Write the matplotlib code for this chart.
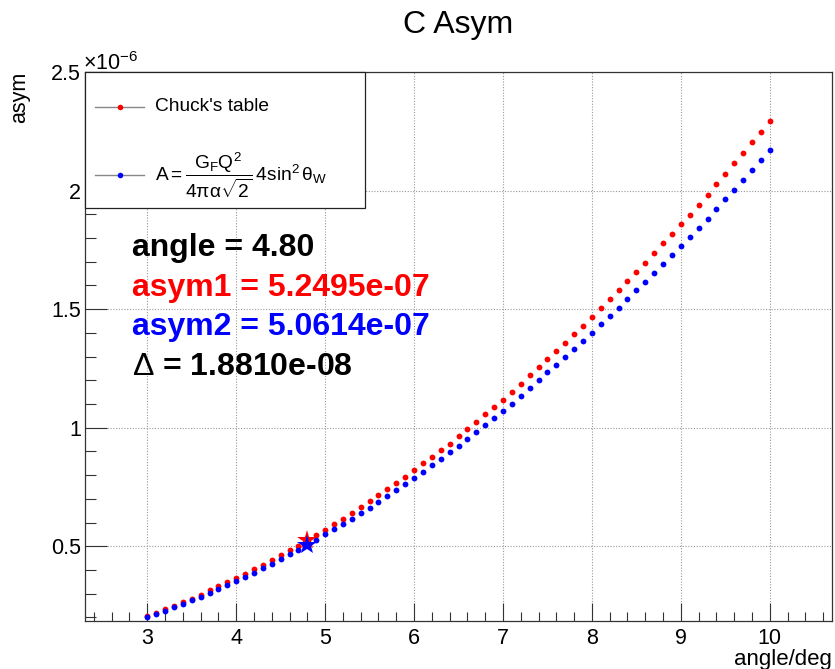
import numpy as np
import matplotlib
matplotlib.use('Agg')
import matplotlib.pyplot as plt
from matplotlib.ticker import MultipleLocator, FuncFormatter
from matplotlib.patches import Rectangle

plt.rcParams['font.family'] = ['Liberation Sans', 'DejaVu Sans']
plt.rcParams['mathtext.fontset'] = 'custom'
plt.rcParams['mathtext.rm'] = 'Liberation Sans'
plt.rcParams['mathtext.it'] = 'Liberation Sans'
plt.rcParams['mathtext.bf'] = 'Liberation Sans:bold'

# scattering angle (deg)
angle = np.round(np.arange(30, 101) / 10.0, 1)

# asymmetry in units of 1e-6
asym_table = [
    0.2065, 0.2204, 0.2360, 0.2500, 0.2642, 0.2794, 0.2963, 0.3148, 0.3316, 0.3498,
    0.3654, 0.3847, 0.4033, 0.4227, 0.4425, 0.4623, 0.4834, 0.5027, 0.5250, 0.5478,
    0.5702, 0.5942, 0.6165, 0.6418, 0.6665, 0.6911, 0.7151, 0.7417, 0.7670, 0.7935,
    0.8205, 0.8500, 0.8765, 0.9060, 0.9326, 0.9638, 0.9945, 1.0253, 1.0565, 1.0872,
    1.1180, 1.1490, 1.1854, 1.2206, 1.2543, 1.2893, 1.3243, 1.3580, 1.3946, 1.4296,
    1.4676, 1.5030, 1.5409, 1.5800, 1.6167, 1.6559, 1.6951, 1.7347, 1.7769, 1.8160,
    1.8570, 1.8990, 1.9397, 1.9802, 2.0265, 2.0716, 2.1150, 2.1589, 2.2035, 2.2474,
    2.2950,
]
asym_formula = [
    0.2010, 0.2137, 0.2276, 0.2432, 0.2570, 0.2726, 0.2878, 0.3047, 0.3203, 0.3371,
    0.3540, 0.3708, 0.3890, 0.4075, 0.4269, 0.4467, 0.4665, 0.4859, 0.5061, 0.5280,
    0.5506, 0.5718, 0.5929, 0.6165, 0.6393, 0.6629, 0.6876, 0.7122, 0.7362, 0.7640,
    0.7893, 0.8146, 0.8428, 0.8694, 0.8963, 0.9241, 0.9524, 0.9831, 1.0126, 1.0421,
    1.0716, 1.1011, 1.1340, 1.1684, 1.2008, 1.2332, 1.2653, 1.2977, 1.3314, 1.3651,
    1.4001, 1.4355, 1.4692, 1.5055, 1.5409, 1.5800, 1.6150, 1.6517, 1.6884, 1.7276,
    1.7655, 1.8047, 1.8441, 1.8820, 1.9229, 1.9633, 2.0030, 2.0434, 2.0855, 2.1277,
    2.1715,
]

# selected point
sel_angle = 4.80
sel_asym1 = 5.2495e-07
sel_asym2 = 5.0614e-07

W, H = 835, 669
fig = plt.figure(figsize=(W / 100, H / 100), dpi=100)
x0, x1, y0, y1 = 85, 832, 72, 621
ax = fig.add_axes([x0 / W, 1 - y1 / H, (x1 - x0) / W, (y1 - y0) / H])

ax.plot(angle, asym_table, 'o', color='#ff0000', ms=4.2, mew=0, zorder=4)
ax.plot(angle, asym_formula, 'o', color='#0000ff', ms=4.2, mew=0, zorder=4)
ax.plot([sel_angle], [sel_asym1 * 1e6], '*', color='#ff0000', ms=15, mew=0, zorder=5)
ax.plot([sel_angle], [sel_asym2 * 1e6], '*', color='#0000ff', ms=15, mew=0, zorder=5)

ax.set_xlim(2.3, 10.7)
ax.set_ylim(0.185, 2.5)
ax.xaxis.set_major_locator(MultipleLocator(1))
ax.xaxis.set_minor_locator(MultipleLocator(0.2))
ax.yaxis.set_major_locator(MultipleLocator(0.5))
ax.yaxis.set_minor_locator(MultipleLocator(0.1))
ax.yaxis.set_major_formatter(FuncFormatter(lambda v, p: '%g' % v))
ax.tick_params(axis='x', which='major', direction='in', length=13, width=0.8,
               labelsize=15.5, pad=5, colors='#333333', labelcolor='black')
ax.tick_params(axis='x', which='minor', direction='in', length=6.5, width=0.8,
               colors='#333333')
ax.tick_params(axis='y', which='major', direction='in', length=16, width=0.8,
               labelsize=15.5, pad=3, colors='#333333', labelcolor='black')
ax.tick_params(axis='y', which='minor', direction='in', length=8, width=0.8,
               colors='#333333')
ax.grid(True, which='major', color='#999999', linestyle=(0, (1, 1.5)), linewidth=0.8)
for s in ax.spines.values():
    s.set_linewidth(0.9)
    s.set_color('#333333')

fig.text(0.5 * (x0 + x1) / W, 1 - 25 / H, 'C Asym', fontsize=23, ha='center', va='center')
fig.text(x1 / W, 1 - 665 / H, 'angle/deg', fontsize=16, ha='right', va='baseline')
fig.text(20 / W, 1 - 72 / H, 'asym', fontsize=15.5, rotation=90, ha='center', va='top')
fig.text(83 / W, 1 - 70 / H, r'$\times10^{-6}$', fontsize=15.5, ha='left', va='baseline')

# legend box
lw_ax = (x1 - x0)
lh_ax = (y1 - y0)
ax.add_patch(Rectangle((0, 1 - (208 - y0) / lh_ax), (365 - x0) / lw_ax, (208 - y0) / lh_ax,
                       transform=ax.transAxes, facecolor='white', edgecolor='#222222',
                       linewidth=0.9, zorder=6, clip_on=False))
entries = [
    (106.5, '#ff0000', "Chuck's table"),
    (175, '#0000ff', r'$A = \dfrac{G_F Q^2}{4\pi\alpha\sqrt{2}}\,4\sin^2\theta_W$'),
]
for ypix, col, lab in entries:
    ya = 1 - (ypix - y0) / lh_ax
    ax.plot([(95 - x0) / lw_ax, (144 - x0) / lw_ax], [ya, ya], color='#888888', lw=1,
            transform=ax.transAxes, zorder=7, clip_on=False)
    ax.plot([(120 - x0) / lw_ax], [ya], 'o', color=col, ms=4, mew=0,
            transform=ax.transAxes, zorder=8, clip_on=False)
    ax.text((155 - x0) / lw_ax, ya, lab, fontsize=13.8, ha='left', va='center',
            transform=ax.transAxes, zorder=8)

# annotation lines
lines = [
    ('angle = %.2f' % sel_angle, 'black'),
    ('asym1 = %.4e' % sel_asym1, '#ff0000'),
    ('asym2 = %.4e' % sel_asym2, '#0000ff'),
    (r'$\Delta$ = %.4e' % (sel_asym1 - sel_asym2), 'black'),
]
for i, (txt, col) in enumerate(lines):
    fig.text(132 / W, 1 - (256 + 39.7 * i) / H, txt, fontsize=23, fontweight='bold',
             color=col, ha='left', va='baseline')

fig.savefig('out.png', dpi=100)
